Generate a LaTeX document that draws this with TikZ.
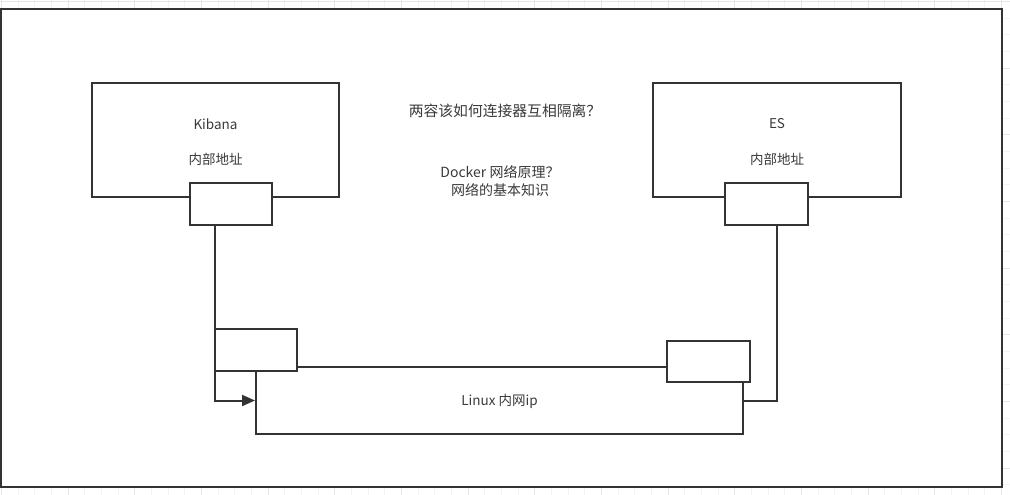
\documentclass[tikz,border=0pt]{standalone}
\usepackage{fontspec}
\setmainfont{Noto Sans CJK SC}
\usetikzlibrary{arrows.meta}
\definecolor{edge}{HTML}{333333}
\definecolor{txt}{HTML}{3A3A3A}
\definecolor{gridminor}{HTML}{F3F3F3}
\definecolor{gridmajor}{HTML}{E6E6E6}
\tikzset{
  box/.style={draw=edge, line width=2pt, fill=white, inner sep=0pt},
  label/.style={text=txt, font=\fontsize{13.5}{16}\selectfont, inner sep=0pt},
  conn/.style={draw=edge, line width=2pt},
  arrowconn/.style={conn, -{Triangle[length=13pt,width=11pt]}}
}
\begin{document}
\begin{tikzpicture}[x=1pt,y=-1pt]
\useasboundingbox (0,0) rectangle (1010,495);
% background grid
\fill[white] (0,0) rectangle (1010,495);
\draw[gridminor, line width=0.8pt, step=16.67pt, xshift=1.3pt, yshift=-1.3pt] (-20,-20) grid (1030,515);
\draw[gridmajor, line width=0.8pt, step=66.67pt, xshift=1.3pt, yshift=-1.3pt] (-70,-70) grid (1080,565);
% frame
\node[draw=edge, line width=2.6pt, fill=white, inner sep=0pt, minimum width=1001pt, minimum height=478pt] (frame) at (501.5,248) {};
% Linux box
\node[box, minimum width=487pt, minimum height=67pt] (linux) at (499.5,400.5) {};
\node[label] (linuxtext) at (499.5,401) {Linux 内网ip};
% small boxes on the Linux box
\node[box, minimum width=82pt, minimum height=42pt] (lport) at (256,350) {};
\node[box, minimum width=83pt, minimum height=41pt] (rport) at (708.5,361.5) {};
% Kibana
\node[box, minimum width=247pt, minimum height=114pt] (kib) at (215.5,140) {};
\node[label] (kibname) at (215.5,124) {Kibana};
\node[label] (kibaddr) at (215.5,159) {内部地址};
\node[box, minimum width=82pt, minimum height=42pt] (kport) at (231,204) {};
% ES
\node[box, minimum width=248pt, minimum height=114pt] (es) at (777,140) {};
\node[label] (esname) at (777,124) {ES};
\node[label] (esaddr) at (777,159) {内部地址};
\node[box, minimum width=83pt, minimum height=42pt] (eport) at (766.5,204) {};
% texts in the middle
\node[text=txt, font=\fontsize{14.8}{17}\selectfont, inner sep=0pt] (title) at (505,111) {两容该如何连接器互相隔离？};
\node[label, font=\fontsize{14}{18}\selectfont, align=center] (docker) at (500,181) {Docker 网络原理？\\网络的基本知识};
% connectors
\coordinate (ka) at ([xshift=-16pt]kport.south);
\coordinate (ea) at ([xshift=10.5pt]eport.south);
\draw[arrowconn] (ka) |- (linux.west);
\draw[conn] (ea) |- (linux.east);
\end{tikzpicture}
\end{document}
